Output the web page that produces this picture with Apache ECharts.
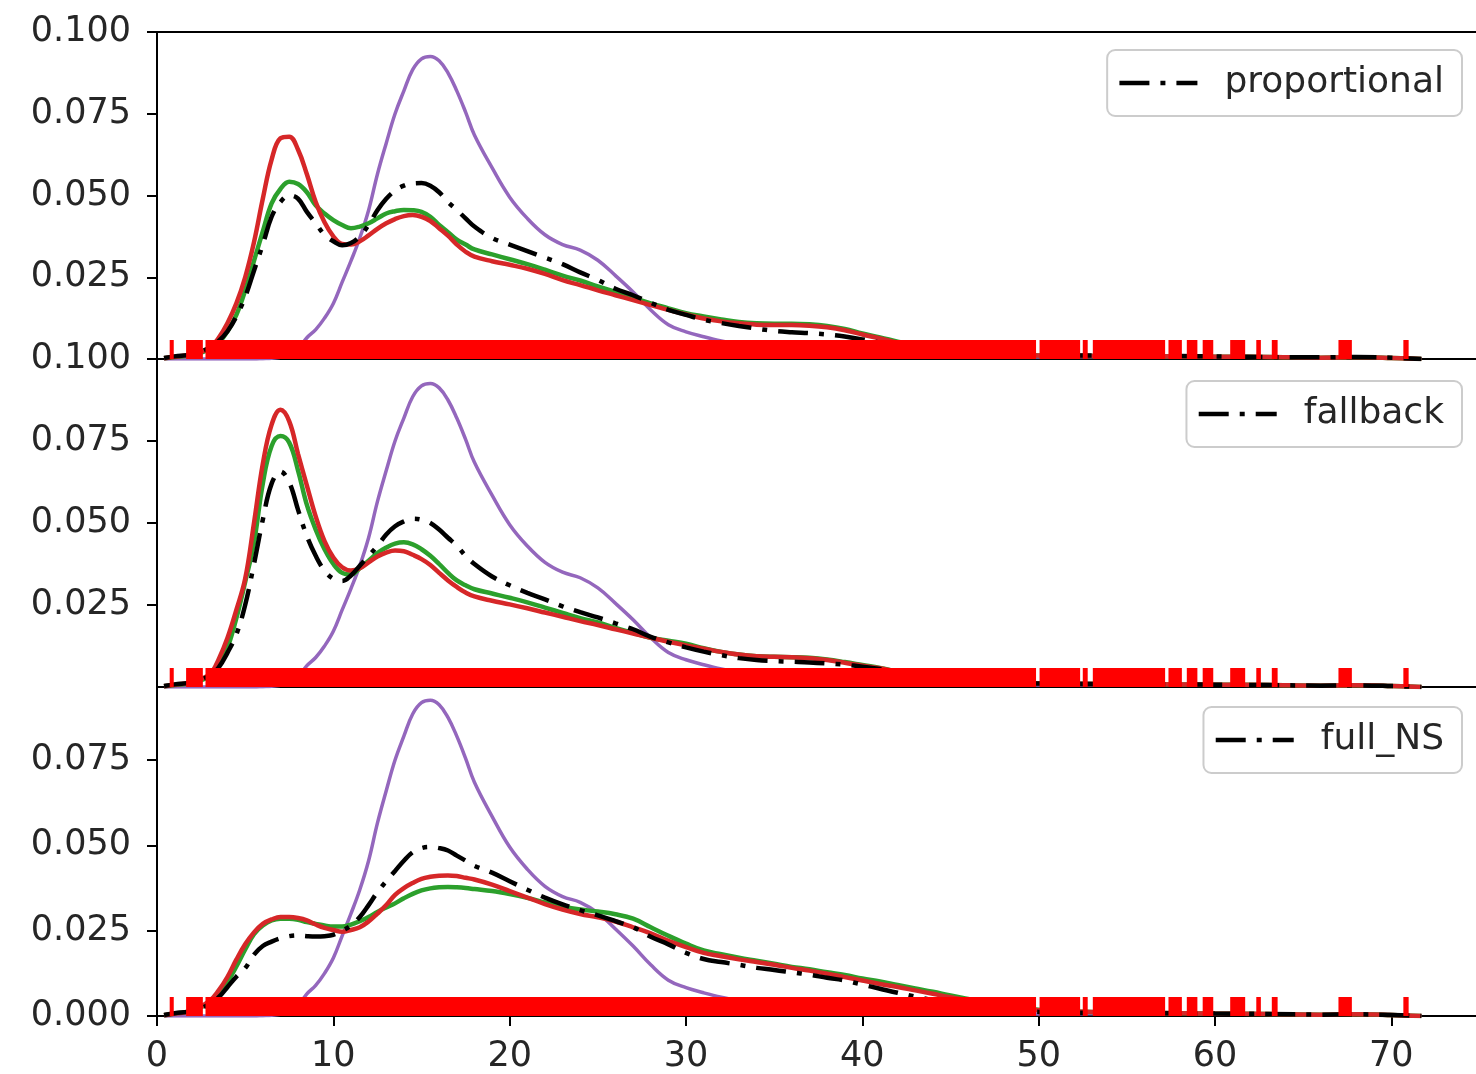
<!DOCTYPE html>
<html>
<head>
<meta charset="utf-8">
<script src="https://cdn.jsdelivr.net/npm/echarts@6/dist/echarts.min.js"></script>
<style>html,body{margin:0;padding:0;background:#fff;}#chart{width:1476px;height:1074px;}</style>
</head>
<body>
<div id="chart"></div>
<script>
// x positions where the density curves were read
const xs = [0.4, 1, 2,
  3, 3.5, 4, 4.5, 5, 5.5, 6, 6.5, 7, 7.5, 8, 8.5, 9, 9.5, 10, 10.5, 11, 11.5, 12, 12.5, 13, 13.5, 14, 14.5, 15, 15.5, 16, 16.5, 17, 17.5, 18,
  19, 20, 21, 22, 23, 24, 25, 26, 27, 28, 29, 30, 31, 32, 33, 34, 35, 36, 37, 38, 39, 40, 41, 42, 43, 44, 45, 46,
  48, 50, 52, 55, 58, 60, 63, 66, 68, 70, 71.7];

// purple reference curve (same in all panels)
const purple = [0, 0, 0,
  0, 0, 0, 0, 0, 0, 0.0001, 0.0002, 0.0005, 0.001, 0.003, 0.0065, 0.009, 0.0125, 0.017, 0.0235, 0.030, 0.037, 0.0455, 0.0565, 0.066, 0.075, 0.082, 0.0885, 0.0918, 0.0925, 0.0912, 0.0875, 0.082, 0.0755, 0.0685,
  0.0585, 0.0495, 0.043, 0.038, 0.035, 0.0333, 0.0302, 0.0255, 0.0205, 0.015, 0.0105, 0.0083, 0.0068, 0.0055, 0.0045, 0.0036, 0.003, 0.0025, 0.002, 0.0018, 0.0015, 0.0012, 0.001, 0.001, 0.0009, 0.0008, 0.0008, 0.0007,
  0.0006, 0.0006, 0.0007, 0.0006, 0.0008, 0.0006, 0.0006, 0.0004, 0.0006, 0.0004, 0];

// panel 1: proportional
const propBlack = [0.0003, 0.0008, 0.0015,
  0.0035, 0.0055, 0.0085, 0.013, 0.019, 0.027, 0.035, 0.0435, 0.048, 0.050, 0.049, 0.045, 0.0415, 0.038, 0.036, 0.0348, 0.0355, 0.0375, 0.041, 0.0455, 0.049, 0.0515, 0.053, 0.0537, 0.0538, 0.053, 0.051, 0.048, 0.0456, 0.043, 0.0405,
  0.037, 0.035, 0.033, 0.031, 0.029, 0.0265, 0.0242, 0.0215, 0.0195, 0.0172, 0.015, 0.0135, 0.012, 0.011, 0.0101, 0.0093, 0.0086, 0.0082, 0.0079, 0.0075, 0.0069, 0.006, 0.005, 0.004, 0.003, 0.0024, 0.002, 0.0017,
  0.0013, 0.0012, 0.0011, 0.001, 0.0009, 0.0008, 0.0006, 0.0005, 0.0006, 0.0004, 0];
const propGreen = [0.0002, 0.0006, 0.0012,
  0.003, 0.005, 0.0085, 0.0135, 0.021, 0.030, 0.039, 0.0476, 0.052, 0.0542, 0.0535, 0.051, 0.047, 0.0445, 0.0425, 0.041, 0.040, 0.0405, 0.0415, 0.043, 0.0445, 0.0452, 0.0456, 0.0455, 0.045, 0.0435, 0.041, 0.0388, 0.0365, 0.035, 0.0335,
  0.032, 0.0305, 0.029, 0.0273, 0.0255, 0.024, 0.0222, 0.0205, 0.0187, 0.017, 0.0155, 0.014, 0.013, 0.0121, 0.0113, 0.0109, 0.0108, 0.0108, 0.0106, 0.0101, 0.0092, 0.0078, 0.0066, 0.0053, 0.0041, 0.0031, 0.0024, 0.0019,
  0.0013, 0.0011, 0.001, 0.0009, 0.0008, 0.0007, 0.0006, 0.0004, 0.0005, 0.0003, 0];
const propRed = [0.0002, 0.0007, 0.0015,
  0.0035, 0.0065, 0.011, 0.017, 0.025, 0.0357, 0.049, 0.061, 0.0675, 0.068, 0.064, 0.0565, 0.048, 0.0418, 0.0375, 0.0352, 0.035, 0.036, 0.0378, 0.0398, 0.0415, 0.0428, 0.0437, 0.044, 0.0435, 0.0422, 0.040, 0.0377, 0.035, 0.0328, 0.0313,
  0.0299, 0.0288, 0.0276, 0.026, 0.0241, 0.0226, 0.021, 0.0195, 0.018, 0.0165, 0.015, 0.0136, 0.0124, 0.0115, 0.0109, 0.0105, 0.0104, 0.0104, 0.0102, 0.0097, 0.0088, 0.0075, 0.0063, 0.005, 0.0039, 0.003, 0.0023, 0.0018,
  0.0013, 0.0011, 0.001, 0.0009, 0.0008, 0.0007, 0.0006, 0.0004, 0.0005, 0.0003, 0];

// panel 2: fallback
const fbBlack = [0.0003, 0.0008, 0.0015,
  0.0035, 0.006, 0.0105, 0.016, 0.025, 0.0375, 0.051, 0.062, 0.0657, 0.0624, 0.054, 0.046, 0.040, 0.0355, 0.033, 0.0323, 0.034, 0.037, 0.040, 0.043, 0.0465, 0.049, 0.0505, 0.0513, 0.051, 0.050, 0.048, 0.0455, 0.0431, 0.040, 0.0375,
  0.0337, 0.031, 0.0287, 0.0267, 0.0246, 0.0228, 0.0212, 0.0194, 0.0176, 0.0153, 0.0136, 0.0121, 0.0108, 0.0097, 0.0088, 0.0082, 0.0079, 0.0077, 0.0075, 0.0072, 0.0068, 0.0062, 0.0055, 0.0045, 0.0035, 0.0027, 0.002, 0.0016,
  0.0012, 0.0011, 0.001, 0.0009, 0.0008, 0.0007, 0.0006, 0.0004, 0.0005, 0.0003, 0];
const fbGreen = [0.0002, 0.0006, 0.0013,
  0.0033, 0.0065, 0.012, 0.021, 0.032, 0.044, 0.062, 0.0735, 0.0765, 0.0745, 0.066, 0.0555, 0.048, 0.042, 0.0375, 0.0348, 0.0343, 0.0362, 0.0385, 0.0408, 0.0425, 0.0437, 0.0441, 0.0435, 0.042, 0.040, 0.0375, 0.0348, 0.0325, 0.031, 0.0298,
  0.0285, 0.0272, 0.0258, 0.0242, 0.0226, 0.021, 0.0197, 0.018, 0.0165, 0.015, 0.0141, 0.0132, 0.0118, 0.0107, 0.0099, 0.0094, 0.0092, 0.0091, 0.0089, 0.0084, 0.0076, 0.0067, 0.0058, 0.0047, 0.0037, 0.0028, 0.0022, 0.0017,
  0.0012, 0.0011, 0.001, 0.0009, 0.0008, 0.0007, 0.0006, 0.0004, 0.0005, 0.0003, 0];
const fbRed = [0.0002, 0.0007, 0.0015,
  0.004, 0.0085, 0.015, 0.0235, 0.033, 0.050, 0.068, 0.080, 0.0845, 0.081, 0.071, 0.0614, 0.052, 0.0445, 0.0395, 0.0365, 0.0355, 0.0362, 0.038, 0.0398, 0.041, 0.0416, 0.0414, 0.0403, 0.039, 0.0372, 0.0348, 0.0325, 0.0305, 0.0288, 0.0276,
  0.0263, 0.0252, 0.024, 0.0227, 0.0214, 0.0201, 0.0189, 0.0176, 0.0163, 0.015, 0.0138, 0.0127, 0.0117, 0.0107, 0.0099, 0.0094, 0.0092, 0.0091, 0.0088, 0.0082, 0.0074, 0.0065, 0.0057, 0.0047, 0.0037, 0.0028, 0.0022, 0.0017,
  0.0012, 0.0011, 0.001, 0.0009, 0.0008, 0.0007, 0.0006, 0.0004, 0.0005, 0.0003, 0];

// panel 3: full_NS
const nsBlack = [0.0003, 0.0008, 0.0015,
  0.0035, 0.0055, 0.0085, 0.0115, 0.014, 0.018, 0.0205, 0.0218, 0.0228, 0.0234, 0.0236, 0.0234, 0.0233, 0.0234, 0.0238, 0.025, 0.0265, 0.029, 0.0325, 0.0363, 0.0395, 0.0425, 0.0455, 0.048, 0.0492, 0.0495, 0.0492, 0.0485, 0.047, 0.0455, 0.044,
  0.042, 0.0395, 0.037, 0.0347, 0.0327, 0.031, 0.0295, 0.0278, 0.026, 0.0232, 0.021, 0.0185, 0.0167, 0.0158, 0.015, 0.0141, 0.0135, 0.0128, 0.0121, 0.0112, 0.0104, 0.0092, 0.008, 0.0068, 0.0057, 0.0046, 0.0036, 0.0028,
  0.0017, 0.0012, 0.001, 0.0009, 0.0008, 0.0007, 0.0006, 0.0004, 0.0005, 0.0003, 0];
const nsGreen = [0.0002, 0.0007, 0.0015,
  0.004, 0.0065, 0.010, 0.0145, 0.0195, 0.024, 0.0265, 0.028, 0.0285, 0.0285, 0.0282, 0.0275, 0.027, 0.0265, 0.0262, 0.0262, 0.0268, 0.0278, 0.029, 0.0305, 0.0318, 0.033, 0.0345, 0.0358, 0.0368, 0.0374, 0.0377, 0.0378, 0.0377, 0.0375, 0.0372,
  0.0366, 0.0357, 0.0346, 0.0333, 0.0321, 0.0312, 0.0306, 0.0298, 0.0285, 0.026, 0.0235, 0.0212, 0.0192, 0.0181, 0.0171, 0.0162, 0.0153, 0.0144, 0.0137, 0.0128, 0.012, 0.011, 0.0101, 0.0091, 0.0081, 0.0071, 0.006, 0.005,
  0.003, 0.0018, 0.0013, 0.001, 0.0008, 0.0007, 0.0006, 0.0004, 0.0005, 0.0003, 0];
const nsRed = [0.0002, 0.0007, 0.0015,
  0.0045, 0.0075, 0.0115, 0.0165, 0.021, 0.0245, 0.027, 0.0283, 0.029, 0.029, 0.0287, 0.028, 0.0268, 0.0258, 0.0252, 0.0247, 0.0252, 0.026, 0.0277, 0.030, 0.0325, 0.0355, 0.0375, 0.039, 0.0402, 0.0408, 0.0411, 0.0412, 0.041, 0.0405, 0.040,
  0.0385, 0.0366, 0.0347, 0.0328, 0.0312, 0.0299, 0.0289, 0.0277, 0.026, 0.0242, 0.022, 0.0202, 0.0185, 0.0175, 0.0166, 0.0158, 0.015, 0.0141, 0.0133, 0.0124, 0.0114, 0.0104, 0.0094, 0.0085, 0.0075, 0.0065, 0.0055, 0.0046,
  0.0028, 0.0017, 0.0013, 0.001, 0.0008, 0.0007, 0.0006, 0.0004, 0.0005, 0.0003, 0];

// rug: covered spans of observations [from, to]
const rugSpans = [[0.72, 0.95], [1.65, 2.6], [2.75, 49.85], [50.05, 52.35], [52.5, 52.78], [53.07, 57.17], [57.36, 58.12], [58.4, 59.0], [59.3, 59.9], [60.86, 61.71], [62.34, 62.6], [63.22, 63.55], [67.0, 67.76], [70.68, 70.98]];

const panelNames = ['proportional', 'fallback', 'full_NS'];
const panelSeries = [[propGreen, propRed, propBlack], [fbGreen, fbRed, fbBlack], [nsGreen, nsRed, nsBlack]];
const yMaxes = [0.1, 0.1, 0.0964];
const xTicks = [0, 10, 20, 30, 40, 50, 60, 70];
const yTicksTop = [0.025, 0.05, 0.075, 0.1];
const yTicksBottom = [0, 0.025, 0.05, 0.075];
const X_MAX = 74.8;

const FONT = 'DejaVu Sans';
const DASHDOT = [30, 11, 5, 11];
const pairs = arr => xs.map((x, i) => [x, arr[i]]);

const panelTops = [32, 359, 687];
const panelHeights = [327, 328, 329];
const grids = panelTops.map((t, i) => ({left: 157, right: 0, top: t, height: panelHeights[i], show: false}));

const xAxes = [];
const yAxes = [];
grids.forEach((g, i) => {
  xAxes.push({
    type: 'value', gridIndex: i, min: 0, max: X_MAX, position: 'bottom',
    axisLine: {show: true, onZero: false, lineStyle: {color: '#000', width: 2}},
    axisTick: {show: i === 2, length: 10, customValues: xTicks, lineStyle: {color: '#000', width: 2}},
    axisLabel: {show: i === 2, fontSize: 35, fontFamily: FONT, color: '#262626', margin: 23,
      customValues: xTicks, formatter: v => String(Math.round(v))},
    splitLine: {show: false}
  });
  const yt = i < 2 ? yTicksTop : yTicksBottom;
  yAxes.push({
    type: 'value', gridIndex: i, min: 0, max: yMaxes[i],
    axisLine: {show: true, onZero: false, lineStyle: {color: '#000', width: 2}},
    axisTick: {show: true, length: 10, customValues: yt, lineStyle: {color: '#000', width: 2}},
    axisLabel: {fontSize: 35, fontFamily: FONT, color: '#262626', margin: 26,
      customValues: yt, formatter: v => v.toFixed(3)},
    splitLine: {show: false}
  });
});
// top spine of the first panel
xAxes.push({
  type: 'value', gridIndex: 0, min: 0, max: X_MAX, position: 'top',
  axisLine: {show: true, onZero: false, lineStyle: {color: '#000', width: 2}},
  axisTick: {show: false}, axisLabel: {show: false}, splitLine: {show: false}
});

const series = [];
panelSeries.forEach((arrs, i) => {
  series.push({name: 'true_' + i, type: 'line', xAxisIndex: i, yAxisIndex: i, data: pairs(purple), smooth: 0.4,
    symbol: 'none', lineStyle: {color: '#9467bd', width: 3.5}, z: 2});
  series.push({name: 'green_' + i, type: 'line', xAxisIndex: i, yAxisIndex: i, data: pairs(arrs[0]), smooth: 0.4,
    symbol: 'none', lineStyle: {color: '#2ca02c', width: 4.5}, z: 3});
  series.push({name: 'red_' + i, type: 'line', xAxisIndex: i, yAxisIndex: i, data: pairs(arrs[1]), smooth: 0.4,
    symbol: 'none', lineStyle: {color: '#d62728', width: 4.5}, z: 4});
  series.push({name: panelNames[i], type: 'line', xAxisIndex: i, yAxisIndex: i, data: pairs(arrs[2]), smooth: 0.4,
    symbol: 'none', itemStyle: {color: '#000'}, lineStyle: {color: '#000', width: 4.5, type: DASHDOT}, z: 5});
  series.push({name: 'rug_' + i, type: 'custom', xAxisIndex: i, yAxisIndex: i, data: rugSpans, z: 6,
    encode: {x: [0, 1]},
    renderItem: (params, api) => {
      const a = api.coord([api.value(0), 0]);
      const b = api.coord([api.value(1), 0]);
      return {type: 'rect', shape: {x: a[0], y: a[1] - 19, width: Math.max(b[0] - a[0], 3.5), height: 19},
        style: {fill: '#ff0000'}};
    }});
});

const legendTops = [50, 381, 707];
const legends = panelNames.map((n, i) => ({
  data: [n], right: 14, top: legendTops[i], orient: 'horizontal',
  selectedMode: false, backgroundColor: '#fff', borderColor: '#cccccc', borderWidth: 2, borderRadius: 8,
  padding: [15, 18, 15, 10], itemWidth: 78, itemHeight: 24,
  itemStyle: {opacity: 0, color: 'transparent', borderWidth: 0},
  lineStyle: {color: '#000', width: 4.5, type: DASHDOT},
  textStyle: {fontSize: 36, fontFamily: FONT, color: '#262626', padding: [0, 0, 0, 22]}
}));

const chart = echarts.init(document.getElementById('chart'), null, {renderer: 'canvas'});
chart.setOption({
  animation: false,
  backgroundColor: '#fff',
  grid: grids,
  xAxis: xAxes,
  yAxis: yAxes,
  legend: legends,
  series: series
});
</script>
</body>
</html>
